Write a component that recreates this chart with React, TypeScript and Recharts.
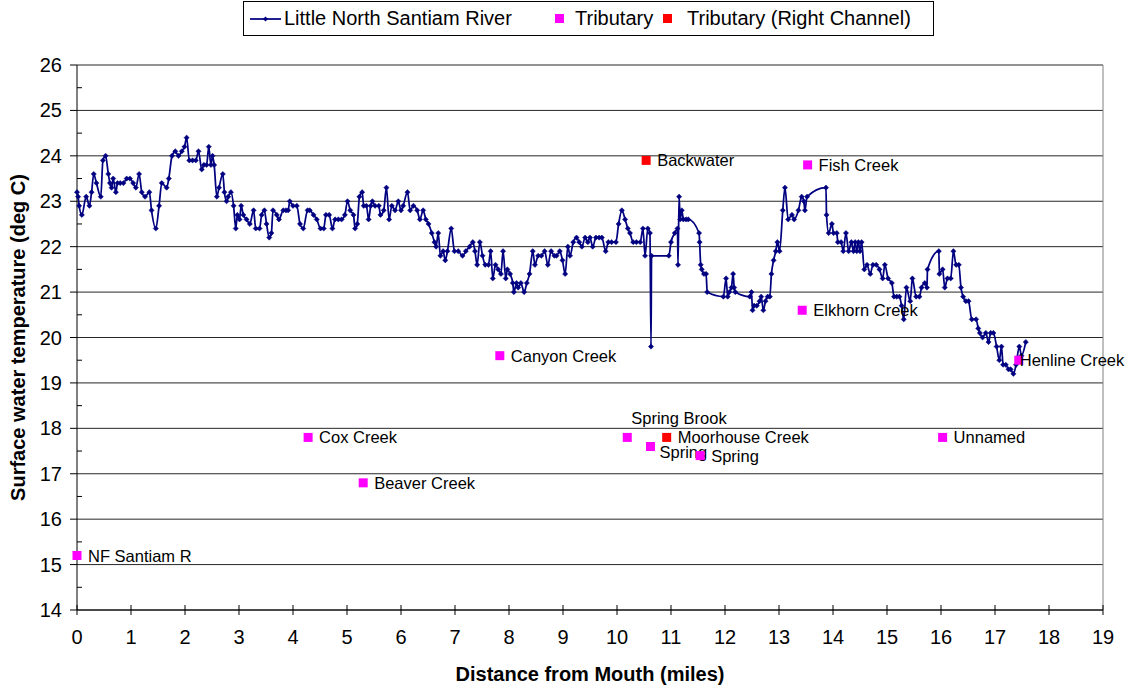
import React from 'react';
import { ComposedChart, Line, Scatter, XAxis, YAxis, CartesianGrid, ReferenceLine } from 'recharts';

// river survey: distance from mouth (miles) and surface temperature (deg C)
const riverMiles = [
    0, 0.02, 0.04, 0.09, 0.17, 0.23, 0.27, 0.31, 0.36, 0.44, 0.48, 0.53, 0.58, 0.61, 0.64, 0.67, 0.72, 0.75, 0.8, 0.86,
    0.92, 0.98, 1.04, 1.09, 1.15, 1.2, 1.26, 1.34, 1.38, 1.46, 1.52, 1.57, 1.66, 1.7, 1.76, 1.82, 1.88, 1.94, 1.99, 2.03,
    2.08, 2.14, 2.2, 2.25, 2.31, 2.35, 2.4, 2.44, 2.48, 2.51, 2.54, 2.59, 2.63, 2.7, 2.73, 2.77, 2.8, 2.85, 2.9, 2.94,
    2.97, 3.01, 3.04, 3.08, 3.14, 3.2, 3.27, 3.31, 3.38, 3.42, 3.47, 3.51, 3.56, 3.6, 3.63, 3.7, 3.74, 3.82, 3.87, 3.91,
    3.94, 4.0, 4.07, 4.13, 4.19, 4.27, 4.31, 4.38, 4.44, 4.51, 4.57, 4.61, 4.67, 4.73, 4.78, 4.84, 4.9, 4.96, 5.01, 5.06,
    5.12, 5.15, 5.19, 5.23, 5.28, 5.31, 5.36, 5.4, 5.44, 5.47, 5.52, 5.59, 5.62, 5.68, 5.73, 5.78, 5.83, 5.89, 5.95, 6.0,
    6.04, 6.12, 6.17, 6.23, 6.3, 6.35, 6.41, 6.46, 6.51, 6.57, 6.62, 6.65, 6.69, 6.73, 6.78, 6.82, 6.86, 6.93, 6.99, 7.06,
    7.14, 7.2, 7.27, 7.33, 7.37, 7.41, 7.46, 7.51, 7.56, 7.62, 7.66, 7.7, 7.75, 7.8, 7.85, 7.89, 7.94, 7.97, 8.02, 8.07,
    8.09, 8.14, 8.17, 8.22, 8.28, 8.33, 8.38, 8.44, 8.48, 8.54, 8.6, 8.66, 8.72, 8.78, 8.84, 8.88, 8.94, 8.99, 9.04, 9.09,
    9.13, 9.19, 9.25, 9.3, 9.35, 9.41, 9.46, 9.5, 9.55, 9.61, 9.67, 9.72, 9.79, 9.84, 9.9, 9.98, 10.03, 10.09, 10.15, 10.2,
    10.24, 10.3, 10.36, 10.43, 10.48, 10.52, 10.57, 10.61, 10.63, 10.64, 10.96, 11.0, 11.07, 11.12, 11.13, 11.15, 11.17, 11.2, 11.23, 11.28,
    11.32, 11.52, 11.53, 11.55, 11.57, 11.61, 11.65, 11.67, 11.97, 12.02, 12.05, 12.08, 12.12, 12.15, 12.17, 12.19, 12.46, 12.49, 12.51, 12.54,
    12.59, 12.64, 12.67, 12.71, 12.75, 12.79, 12.83, 12.86, 12.9, 12.94, 12.97, 13.01, 13.07, 13.11, 13.17, 13.24, 13.28, 13.36, 13.42, 13.46,
    13.48, 13.52, 13.87, 13.88, 13.92, 13.98, 14.01, 14.07, 14.09, 14.15, 14.19, 14.24, 14.29, 14.34, 14.38, 14.41, 14.44, 14.47, 14.5, 14.53,
    14.58, 14.63, 14.69, 14.74, 14.8, 14.86, 14.92, 14.96, 15.02, 15.09, 15.13, 15.18, 15.23, 15.27, 15.31, 15.36, 15.43, 15.47, 15.54, 15.6,
    15.64, 15.7, 15.74, 15.75, 15.96, 15.97, 16.03, 16.07, 16.12, 16.18, 16.23, 16.28, 16.33, 16.37, 16.41, 16.46, 16.51, 16.57, 16.65, 16.69,
    16.72, 16.77, 16.83, 16.88, 16.92, 16.97, 17.03, 17.08, 17.12, 17.15, 17.2, 17.25, 17.29, 17.34, 17.39, 17.45, 17.49, 17.57,
];

const riverTemps = [
    23.2, 23.1, 22.9, 22.7, 23.1, 22.9, 23.2, 23.6, 23.4, 23.1, 23.9, 24.0, 23.6, 23.4, 23.3, 23.5, 23.2, 23.4, 23.4, 23.4,
    23.5, 23.5, 23.4, 23.3, 23.6, 23.2, 23.1, 23.2, 22.8, 22.4, 22.9, 23.4, 23.3, 23.5, 24.0, 24.1, 24.0, 24.1, 24.2, 24.4,
    23.9, 23.9, 23.9, 24.1, 23.7, 23.8, 23.8, 24.2, 23.8, 24.0, 23.8, 23.1, 23.3, 23.6, 23.2, 23.0, 23.1, 23.2, 22.9, 22.4,
    22.7, 22.6, 22.9, 22.7, 22.6, 22.5, 22.8, 22.4, 22.4, 22.7, 22.8, 22.5, 22.2, 22.3, 22.8, 22.7, 22.6, 22.8, 22.8, 22.8,
    23.0, 22.9, 22.9, 22.5, 22.4, 22.8, 22.8, 22.7, 22.6, 22.4, 22.4, 22.7, 22.7, 22.4, 22.6, 22.6, 22.6, 22.7, 23.0, 22.8,
    22.7, 22.4, 22.5, 23.1, 23.2, 22.9, 22.9, 22.6, 22.9, 23.0, 22.9, 22.9, 22.7, 22.8, 23.3, 22.6, 22.9, 22.8, 23.0, 22.8,
    22.9, 23.2, 22.8, 22.9, 22.8, 22.6, 22.8, 22.6, 22.5, 22.3, 22.1, 22.0, 22.3, 21.8, 21.9, 21.7, 21.9, 22.4, 21.9, 21.9,
    21.8, 21.9, 22.0, 22.1, 21.9, 21.6, 22.1, 21.8, 21.6, 21.6, 21.9, 21.3, 21.6, 21.5, 21.4, 21.9, 21.3, 21.5, 21.4, 21.2,
    21.0, 21.2, 21.1, 21.2, 21.0, 21.2, 21.4, 21.9, 21.6, 21.8, 21.8, 21.9, 21.6, 21.9, 21.8, 21.8, 21.9, 21.7, 21.4, 22.0,
    21.8, 22.1, 22.2, 22.1, 22.0, 22.2, 22.1, 22.2, 22.0, 22.2, 22.2, 22.2, 21.9, 22.1, 22.1, 22.1, 22.5, 22.8, 22.6, 22.4,
    22.3, 22.1, 22.1, 22.1, 22.4, 21.8, 22.4, 22.3, 19.8, 21.8, 21.8, 22.1, 22.3, 22.4, 21.6, 23.1, 22.6, 22.8, 22.6, 22.6,
    22.6, 22.3, 22.1, 21.6, 21.5, 21.4, 21.4, 21.0, 20.9, 21.3, 20.9, 21.0, 21.1, 21.4, 21.1, 21.0, 20.9, 21.0, 20.6, 20.7,
    20.7, 20.8, 20.9, 20.6, 20.8, 20.9, 20.9, 21.4, 21.7, 21.9, 22.1, 21.9, 22.8, 23.3, 22.6, 22.7, 22.6, 22.8, 23.1, 23.0,
    22.8, 23.1, 23.3, 22.7, 22.3, 22.5, 22.3, 22.3, 22.1, 22.1, 21.9, 22.3, 21.9, 22.1, 21.9, 22.1, 21.9, 22.1, 21.9, 22.1,
    21.5, 21.6, 21.4, 21.6, 21.6, 21.5, 21.3, 21.6, 21.3, 21.2, 20.9, 20.9, 20.9, 20.7, 20.4, 21.1, 20.8, 21.3, 20.9, 20.9,
    21.1, 21.2, 21.1, 21.5, 21.9, 21.4, 21.5, 21.1, 21.3, 21.3, 21.9, 21.6, 21.6, 21.1, 20.9, 20.8, 20.8, 20.4, 20.4, 20.2,
    20.1, 20.0, 20.1, 19.9, 20.1, 20.1, 19.8, 19.5, 19.8, 19.4, 19.4, 19.3, 19.3, 19.2, 19.4, 19.8, 19.6, 19.9,
];

// tributaries (left side / main channel)
const tribNames = ['NF Santiam R', 'Cox Creek', 'Beaver Creek', 'Canyon Creek', 'Spring Brook', 'Spring', 'Spring', 'Elkhorn Creek', 'Fish Creek', 'Unnamed', 'Henline Creek'];
const tribMiles = [0.0, 4.28, 5.3, 7.83, 10.19, 10.62, 11.54, 13.43, 13.53, 16.03, 17.44];
const tribTemps = [15.2, 17.8, 16.8, 19.6, 17.8, 17.6, 17.4, 20.6, 23.8, 17.8, 19.5];

// tributaries entering the right channel
const rightNames = ['Backwater', 'Moorhouse Creek'];
const rightMiles = [10.54, 10.92];
const rightTemps = [23.9, 17.8];

const xTicks = [0, 1, 2, 3, 4, 5, 6, 7, 8, 9, 10, 11, 12, 13, 14, 15, 16, 17, 18, 19];
const yTicks = [14, 14.5, 15, 15.5, 16, 16.5, 17, 17.5, 18, 18.5, 19, 19.5, 20, 20.5, 21, 21.5, 22, 22.5, 23, 23.5, 24, 24.5, 25, 25.5, 26];
const yGrid = [14, 15, 16, 17, 18, 19, 20, 21, 22, 23, 24, 25, 26];

const FONT = '"Liberation Sans", Arial, sans-serif';
const NAVY = '#000080';

const riverData = riverMiles.map((m, i) => ({ x: m, t: riverTemps[i] }));
const tribData = tribNames.map((n, i) => ({ x: tribMiles[i], t: tribTemps[i], name: n, idx: i }));
const rightData = rightNames.map((n, i) => ({ x: rightMiles[i], t: rightTemps[i], name: n, idx: i }));

// label nudges for the crowded spots (by tributary index)
const tribLabelNudge: Record<number, [number, number]> = {
    4: [4, -19],
    5: [9, 5],
    10: [1, 0],
};

const Diamond = (props: any) => {
    const { cx, cy, index } = props;
    if (cx == null || cy == null) return null;
    const r = 2.6;
    return <path key={`d-${index}`} d={`M${cx},${cy - r}L${cx + r},${cy}L${cx},${cy + r}L${cx - r},${cy}Z`} fill={NAVY} stroke={NAVY} strokeWidth={0.5} />;
};

const makeSquare = (color: string, nudge: Record<number, [number, number]>) => (props: any) => {
    const { cx, cy, payload } = props;
    const [dx, dy] = nudge[payload.idx] || [11, 0];
    return (
        <g>
            <rect x={cx - 4.5} y={cy - 4.5} width={9} height={9} fill={color} />
            <text x={cx + dx} y={cy + dy + 6} fontSize={16.5} fontFamily={FONT} fill="#000">{payload.name}</text>
        </g>
    );
};

const YTick = (props: any) => {
    const { x, y, payload } = props;
    const v = payload.value;
    if (v % 1 !== 0) {
        return <line x1={x} x2={x + 5} y1={y} y2={y} stroke="#000" />;
    }
    return (
        <g>
            <line x1={x - 7} x2={x} y1={y} y2={y} stroke="#000" />
            <text x={x - 15} y={y + 7} textAnchor="end" fontSize={20} fontFamily={FONT} fill="#000">{v}</text>
        </g>
    );
};

const XTick = (props: any) => {
    const { x, y, payload } = props;
    return (
        <g>
            <line x1={x} x2={x} y1={y - 5} y2={y + 5} stroke="#000" />
            <text x={x} y={y + 34} textAnchor="middle" fontSize={20} fontFamily={FONT} fill="#000">{payload.value}</text>
        </g>
    );
};

const LegendBox = () => (
    <div style={{ position: 'absolute', left: 243, top: 1, width: 689, height: 33, border: '1px solid #000', background: '#fff', fontFamily: FONT, fontSize: 20, color: '#000' }}>
        <svg style={{ position: 'absolute', left: 6, top: 12 }} width={32} height={10}>
            <line x1={0} x2={31} y1={5} y2={5} stroke={NAVY} strokeWidth={1.75} />
            <path d="M15.5,2.4L18.1,5L15.5,7.6L12.9,5Z" fill={NAVY} />
        </svg>
        <span style={{ position: 'absolute', left: 40, top: 5 }}>Little North Santiam River</span>
        <span style={{ position: 'absolute', left: 311, top: 12, width: 9, height: 9, background: '#ff00ff' }} />
        <span style={{ position: 'absolute', left: 331, top: 5 }}>Tributary</span>
        <span style={{ position: 'absolute', left: 419, top: 12, width: 9, height: 9, background: '#ff0000' }} />
        <span style={{ position: 'absolute', left: 443, top: 5 }}>Tributary (Right Channel)</span>
    </div>
);

export default function App() {
    return (
        <div style={{ position: 'absolute', left: 0, top: 0, width: 1128, height: 688, background: '#fff' }}>
            <ComposedChart width={1128} height={688} margin={{ top: 65, right: 25, bottom: 0, left: 0 }}>
                <CartesianGrid horizontalValues={yGrid} vertical={false} stroke="#000" strokeOpacity={0.85} />
                <XAxis
                    dataKey="x"
                    type="number"
                    domain={[0, 19]}
                    ticks={xTicks}
                    interval={0}
                    height={78}
                    tickSize={0}
                    tickMargin={0}
                    tick={(p: any) => <XTick {...p} />}
                    axisLine={{ stroke: '#000' }}
                    label={{
                        content: (p: any) => {
                            const vb = p.viewBox;
                            return (
                                <text x={vb.x + vb.width / 2} y={vb.y + 71} textAnchor="middle" fontSize={20} fontWeight="bold" fontFamily={FONT} fill="#000">
                                    Distance from Mouth (miles)
                                </text>
                            );
                        },
                    }}
                />
                <YAxis
                    type="number"
                    domain={[14, 26]}
                    ticks={yTicks}
                    interval={0}
                    width={77}
                    tickSize={0}
                    tickMargin={0}
                    tick={(p: any) => <YTick {...p} />}
                    axisLine={{ stroke: '#000' }}
                    label={{
                        content: (p: any) => {
                            const vb = p.viewBox;
                            const cy = vb.y + vb.height / 2;
                            return (
                                <text transform={`translate(${vb.x + 25},${cy}) rotate(-90)`} textAnchor="middle" fontSize={20} fontWeight="bold" fontFamily={FONT} fill="#000">
                                    Surface water temperature (deg C)
                                </text>
                            );
                        },
                    }}
                />
                <ReferenceLine x={19} stroke="#808080" />
                <Line
                    data={riverData}
                    dataKey="t"
                    type="monotone"
                    stroke={NAVY}
                    strokeWidth={1.75}
                    dot={Diamond}
                    activeDot={false}
                    isAnimationActive={false}
                />
                <Scatter data={tribData} dataKey="t" shape={makeSquare('#ff00ff', tribLabelNudge)} isAnimationActive={false} />
                <Scatter data={rightData} dataKey="t" shape={makeSquare('#ff0000', {})} isAnimationActive={false} />
            </ComposedChart>
            <LegendBox />
        </div>
    );
}
